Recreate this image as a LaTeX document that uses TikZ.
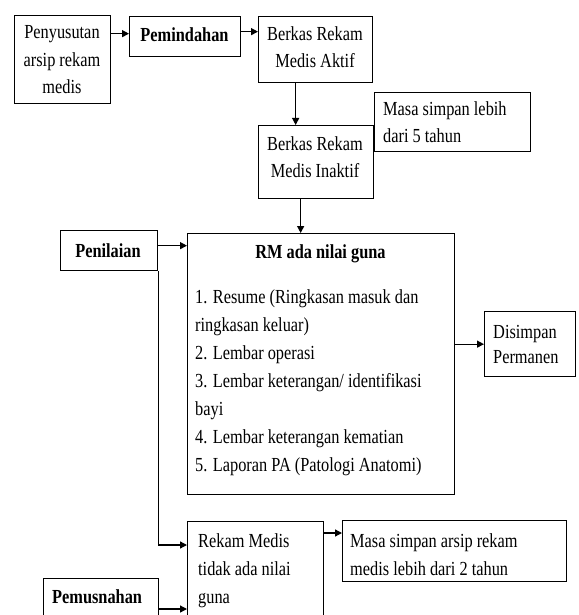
\documentclass[tikz,border=0pt]{standalone}
\usepackage{fontspec}
\setmainfont{Liberation Serif}[FakeStretch=0.82]
\usetikzlibrary{arrows.meta}
\begin{document}
\begin{tikzpicture}[x=1bp,y=-1bp,
  box/.style={draw, line width=1.3bp, inner sep=0pt, anchor=north west},
  txt/.style={inner sep=0pt, font=\fontsize{20}{28}\selectfont},
  btxt/.style={inner sep=0pt, font=\fontsize{20}{28}\selectfont\bfseries},
  arr/.style={line width=1.3bp, -{Triangle[length=7bp,width=7bp]}}
]
\useasboundingbox (0,0) rectangle (579,615);
\clip (0,0) rectangle (579,615);
% boxes
\node[box, minimum width=96bp,  minimum height=88bp]  (b1)   at (14,15)  {};
\node[box, minimum width=111bp, minimum height=40bp]  (b2)   at (129,16) {};
\node[box, minimum width=114bp, minimum height=66bp]  (b3)   at (258,16) {};
\node[box, minimum width=115bp, minimum height=73bp]  (b4)   at (258,125) {};
\node[box, minimum width=156bp, minimum height=59bp]  (b5)   at (374,92) {};
\node[box, minimum width=97bp,  minimum height=40bp]  (pen)  at (60,230) {};
\node[box, minimum width=267bp, minimum height=261bp] (rm)   at (187,233) {};
\node[box, minimum width=91bp,  minimum height=65bp]  (dis)  at (484,311) {};
\node[box, minimum width=136bp, minimum height=110bp] (rmt)  at (187,521) {};
\node[box, minimum width=224bp, minimum height=61bp]  (masa) at (342,520) {};
\node[box, minimum width=115bp, minimum height=60bp]  (pem)  at (43,578) {};
% texts (base anchor = baseline of the last line)
\node[txt, anchor=base, align=center] (t1) at (62,94) {Penyusutan\\arsip rekam\\medis};
\node[btxt, anchor=base] (t2) at (184.5,42) {Pemindahan};
\node[txt, anchor=base, align=center] (t3) at (315,68) {Berkas Rekam\\Medis Aktif};
\node[txt, anchor=base, align=center] (t4) at (315,178) {Berkas Rekam\\Medis Inaktif};
\node[txt, anchor=base west, align=left] (t5) at (383,143) {Masa simpan lebih\\dari 5 tahun};
\node[btxt, anchor=base] (t6) at (108,257) {Penilaian};
\node[btxt, anchor=base] (t7) at (320.5,258) {RM ada nilai guna};
\node[txt, anchor=base west, align=left] (t8) at (195,471) {1. Resume (Ringkasan masuk dan\\ringkasan keluar)\\2. Lembar operasi\\3. Lembar keterangan/ identifikasi\\bayi\\4. Lembar keterangan kematian\\5. Laporan PA (Patologi Anatomi)};
\node[txt, anchor=base west, align=left, font=\fontsize{20}{25}\selectfont] (t9) at (493,363) {Disimpan\\Permanen};
\node[txt, anchor=base west, align=left] (t10) at (198,603) {Rekam Medis\\tidak ada nilai\\guna};
\node[txt, anchor=base west, align=left] (t11) at (350,575) {Masa simpan arsip rekam\\medis lebih dari 2 tahun};
\node[btxt, anchor=base west] (t12) at (52,603) {Pemusnahan};
% connector helper points
\coordinate (c12) at ([yshift=3bp]b2.west);
\coordinate (c23) at ([yshift=5bp]b2.east);
\coordinate (c34) at ([xshift=-20bp]b3.south);
\coordinate (c4r) at ([xshift=-15.5bp]b4.south);
\coordinate (cpr) at ([yshift=5bp]pen.east);
\coordinate (cpt) at ([yshift=-24bp]rmt.north west);
\coordinate (ctm) at ([yshift=-12bp]rmt.north east);
\coordinate (cpm) at ([yshift=-31bp]pem.north east);
% connectors
\draw[arr] (b1.east |- c12) -- (c12);
\draw[arr] (c23) -- (c23 -| b3.west);
\draw[arr] (c34) -- (c34 |- b4.north);
\draw[arr] (c4r) -- (c4r |- rm.north);
\draw[arr] (cpr) -- (cpr -| rm.west);
\draw[arr] (pen.south east) |- (cpt);
\draw[arr] (dis.west -| rm.east) -- (dis.west);
\draw[arr] (ctm) -- (ctm -| masa.west);
\draw[arr] (cpm) -- (cpm -| rmt.west);
\end{tikzpicture}
\end{document}
